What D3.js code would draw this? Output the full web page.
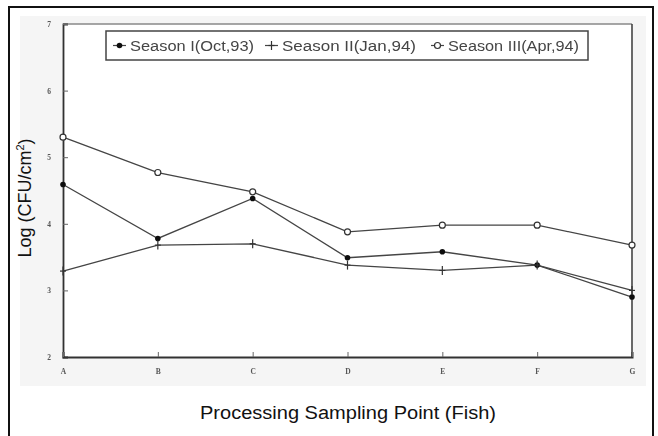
<!DOCTYPE html>
<html>
<head>
<meta charset="utf-8">
<script src="https://cdn.jsdelivr.net/npm/d3@7"></script>
<style>
  html, body { margin: 0; padding: 0; background: #fff; }
  svg { display: block; }
</style>
</head>
<body>
<svg id="chart" width="658" height="436"></svg>
<script>
// Sampling points along the fish processing line
const points = ["A", "B", "C", "D", "E", "F", "G"];

// Log (CFU/cm²) per season
const seasonI   = [4.59, 3.78, 4.38, 3.49, 3.58, 3.38, 2.90];
const seasonII  = [3.29, 3.68, 3.70, 3.38, 3.30, 3.38, 3.00];
const seasonIII = [5.30, 4.77, 4.48, 3.88, 3.98, 3.98, 3.68];

const seriesNames = ["Season I(Oct,93)", "Season II(Jan,94)", "Season III(Apr,94)"];
const yTicks = [2, 3, 4, 5, 6, 7];

const series = [
  { name: seriesNames[0], values: seasonI,   marker: "dot" },
  { name: seriesNames[1], values: seasonII,  marker: "plus" },
  { name: seriesNames[2], values: seasonIII, marker: "ring" }
];

const svg = d3.select("#chart");

// outer frame and scanned-figure panel
svg.append("rect").attr("x", 20).attr("y", 16).attr("width", 626).attr("height", 370)
  .attr("fill", "#f5f5f5");
svg.append("rect").attr("x", 9).attr("y", 7).attr("width", 644).attr("height", 440)
  .attr("fill", "none").attr("stroke", "#111").attr("stroke-width", 2);

const x = d3.scalePoint().domain(points).range([63, 632]);
const y = d3.scaleLinear().domain([2, 7]).range([357, 24]);

const defs = svg.append("defs");
defs.append("filter").attr("id", "soft")
  .attr("x", "-5%").attr("y", "-5%").attr("width", "110%").attr("height", "110%")
  .append("feGaussianBlur").attr("stdDeviation", 0.5);

const plot = svg.append("g").attr("filter", "url(#soft)");

// plot area
plot.append("rect").attr("x", 63).attr("y", 24).attr("width", 569).attr("height", 333)
  .attr("fill", "#fff");
plot.append("line").attr("x1", 63).attr("x2", 632).attr("y1", 24).attr("y2", 24)
  .attr("stroke", "#888").attr("stroke-width", 1.5);
plot.append("line").attr("x1", 632).attr("x2", 632).attr("y1", 24).attr("y2", 357)
  .attr("stroke", "#444").attr("stroke-width", 1.6);

// axes
const yAxis = d3.axisLeft(y).tickValues(yTicks).tickSize(-5).tickPadding(12)
  .tickFormat(d3.format("d"));
const gy = plot.append("g").attr("transform", "translate(63,0)").call(yAxis);
gy.select(".domain").attr("stroke", "#333").attr("stroke-width", 1.8);
gy.selectAll(".tick line").attr("stroke", "#666");
gy.selectAll(".tick text").attr("fill", "#555").attr("font-family", "Liberation Serif, serif")
  .attr("font-size", 7.5).attr("font-weight", "bold");

const xAxis = d3.axisBottom(x).tickSize(-5).tickPadding(12);
const gx = plot.append("g").attr("transform", "translate(0,357)").call(xAxis);
gx.select(".domain").attr("stroke", "#333").attr("stroke-width", 2);
gx.selectAll(".tick line").attr("stroke", "#666");
gx.selectAll(".tick text").attr("fill", "#555").attr("font-family", "Liberation Serif, serif")
  .attr("font-size", 7.5).attr("font-weight", "bold");

// series lines
const line = d3.line().x((d, i) => x(points[i])).y(d => y(d));
plot.selectAll("path.series").data(series).join("path")
  .attr("class", "series")
  .attr("d", s => line(s.values))
  .attr("fill", "none").attr("stroke", "#444").attr("stroke-width", 1.3);

function drawMarker(g, kind, cx, cy) {
  if (kind === "dot") {
    g.append("circle").attr("cx", cx).attr("cy", cy).attr("r", 2.8).attr("fill", "#111");
  } else if (kind === "plus") {
    g.append("line").attr("x1", cx).attr("x2", cx).attr("y1", cy - 4.5).attr("y2", cy + 4.5)
      .attr("stroke", "#333").attr("stroke-width", 1.2);
    g.append("line").attr("x1", cx - 3).attr("x2", cx + 3).attr("y1", cy).attr("y2", cy)
      .attr("stroke", "#333").attr("stroke-width", 1.2);
  } else {
    g.append("circle").attr("cx", cx).attr("cy", cy).attr("r", 3)
      .attr("fill", "#fff").attr("stroke", "#333").attr("stroke-width", 1.2);
  }
}

series.forEach(s => {
  const g = plot.append("g");
  s.values.forEach((v, i) => drawMarker(g, s.marker, x(points[i]), y(v)));
});

// legend
const legend = plot.append("g");
legend.append("rect").attr("x", 106).attr("y", 31).attr("width", 482).attr("height", 29)
  .attr("fill", "#fff").attr("stroke", "#444").attr("stroke-width", 1.5);
const legendX = [113, 265, 431];
const legendLen = [124, 134, 131];
series.forEach((s, i) => {
  const lx = legendX[i];
  legend.append("line").attr("x1", lx).attr("x2", lx + 13).attr("y1", 45.5).attr("y2", 45.5)
    .attr("stroke", "#444").attr("stroke-width", 1.2);
  drawMarker(legend, s.marker, lx + 6.5, 45.5);
  legend.append("text").attr("x", lx + 17).attr("y", 51)
    .attr("font-family", "Liberation Sans, Arial, sans-serif").attr("font-size", 15.5)
    .attr("fill", "#444")
    .attr("textLength", legendLen[i]).attr("lengthAdjust", "spacingAndGlyphs")
    .text(s.name);
});

// axis titles
svg.append("text").attr("x", 348).attr("y", 419).attr("text-anchor", "middle")
  .attr("font-family", "Liberation Sans, Arial, sans-serif").attr("font-size", 18)
  .attr("fill", "#111")
  .attr("textLength", 296).attr("lengthAdjust", "spacingAndGlyphs")
  .text("Processing Sampling Point (Fish)");

const yl = svg.append("text")
  .attr("transform", "translate(31,198) rotate(-90)")
  .attr("text-anchor", "middle")
  .attr("font-family", "Liberation Sans, Arial, sans-serif").attr("font-size", 18)
  .attr("fill", "#111");
yl.append("tspan").text("Log (CFU/cm");
yl.append("tspan").attr("font-size", 11).attr("dy", -7).text("2");
yl.append("tspan").attr("dy", 7).text(")");
</script>
</body>
</html>
